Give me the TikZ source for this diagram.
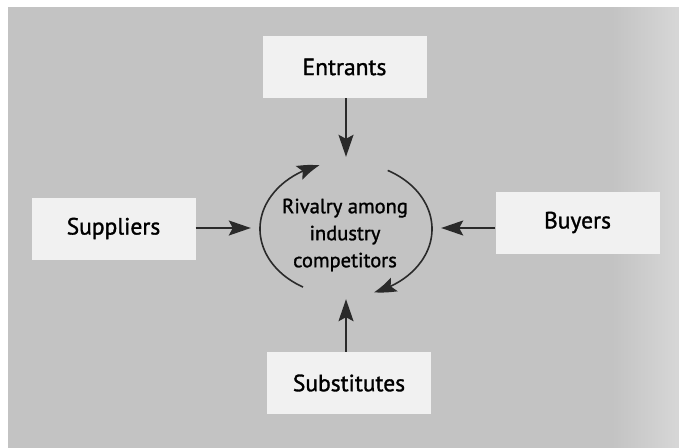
\documentclass[tikz,border=0pt]{standalone}
\usepackage{fontspec}
\setmainfont{PT Sans}[FakeBold=1.3]
\usetikzlibrary{arrows.meta,bending,shapes.geometric}

\definecolor{pagegray}{HTML}{C3C3C3}
\definecolor{pageedge}{HTML}{DADADA}
\definecolor{boxfill}{HTML}{F1F1F1}
\definecolor{ink}{HTML}{2A2A2A}

\begin{document}
\begin{tikzpicture}[x=1pt,y=-1pt,
  force/.style={fill=boxfill, draw=none, inner sep=0pt,
    minimum width=164pt, minimum height=62pt,
    font=\fontsize{23.5}{27}\selectfont, text=black},
  push/.style={draw=ink, line width=1.8pt,
    -{Stealth[length=22pt, width=15pt, inset=4pt]}},
  turn/.style={draw=ink, line width=1.6pt,
    -{Stealth[length=22pt, width=15pt, inset=4pt, bend]}}]

  % page and grey panel
  \useasboundingbox (0,0) rectangle (679,447);
  \fill[white] (0,0) rectangle (679,447);
  \fill[pagegray] (8,7) rectangle (690,460);
  \shade[left color=pagegray, right color=pageedge] (612,7) rectangle (690,460);

  % the four outside forces
  \node[force] (ent) at (344.5,67)  {Entrants};
  \node[force] (sup) at (113.5,228.5) {Suppliers};
  \node[force] (buy) at (577.5,222.5) {Buyers};
  \node[force] (sub) at (349,383)   {Substitutes};

  % central rivalry and the outline the arrows point at
  \node[align=center, font=\fontsize{20.5}{27}\selectfont, text=black]
    (rival) at (345,235) {Rivalry among\\industry\\competitors};
  \node[ellipse, draw=none, inner sep=0pt, minimum width=190pt,
    minimum height=142pt] (ring) at (346,228) {};
  \coordinate (hub) at (346,229);

  % circulating arrows round the rivalry (radii in absolute lengths)
  \draw[turn] ([shift={(240:86pt and 67pt)}]hub)
    arc[start angle=240, end angle=108, x radius=86pt, y radius=67pt];
  \draw[turn] ([shift={(61:86pt and 67pt)}]hub)
    arc[start angle=61, end angle=-71, x radius=86pt, y radius=67pt];

  % forces acting on the rivalry
  \draw[push] (ring.north |- ent.south) -- (ring.north);
  \draw[push] (sup.east |- ring.west) -- (ring.west);
  \draw[push] (buy.west |- ring.east) -- (ring.east);
  \draw[push] (ring.south |- sub.north) -- (ring.south);
\end{tikzpicture}
\end{document}
